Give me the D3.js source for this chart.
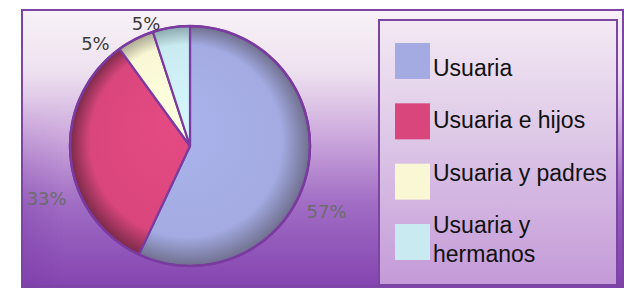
<!DOCTYPE html>
<html><head><meta charset="utf-8">
<script src="https://cdn.jsdelivr.net/npm/d3@7"></script>
<style>html,body{margin:0;padding:0;background:#fff;}svg{display:block;}</style>
</head><body>
<svg id="c" width="624" height="288"></svg>
<script>
const categories = ["Usuaria", "Usuaria e hijos", "Usuaria y padres", "Usuaria y hermanos"];
const values = [57, 33, 5, 5];
const valueLabels = ["57%", "33%", "5%", "5%"];
const legendLines = [["Usuaria"], ["Usuaria e hijos"], ["Usuaria y padres"], ["Usuaria y", "hermanos"]];
const colors = ["#a3abe2", "#d9467c", "#f9f7d4", "#c9eaf0"];
const rimColors = ["#6f6f8e", "#7a2a48", "#a8a690", "#8aa8ae"];

const svg = d3.select("#c");
const defs = svg.append("defs");

// background gradient
const bg = defs.append("linearGradient").attr("id","bg").attr("x1",0).attr("y1",0).attr("x2",0).attr("y2",1);
[[0,"#f8f2f7"],[0.22,"#eee2f0"],[0.45,"#cdaadd"],[0.7,"#a06cc4"],[1,"#8444b0"]].forEach(s=>bg.append("stop").attr("offset",s[0]).attr("stop-color",s[1]));
const bgSide = defs.append("linearGradient").attr("id","bgSide").attr("x1",0).attr("y1",0).attr("x2",1).attr("y2",0);
[[0,"#7a3aa6",0.35],[0.07,"#7a3aa6",0],[0.93,"#7a3aa6",0],[1,"#7a3aa6",0.35]].forEach(s=>bgSide.append("stop").attr("offset",s[0]).attr("stop-color",s[1]).attr("stop-opacity",s[2]));
const sideMaskG = defs.append("linearGradient").attr("id","sideMaskG").attr("x1",0).attr("y1",0).attr("x2",0).attr("y2",1);
[[0,"#000"],[0.35,"#000"],[0.8,"#fff"]].forEach(s=>sideMaskG.append("stop").attr("offset",s[0]).attr("stop-color",s[1]));
defs.append("mask").attr("id","sideMask").append("rect").attr("x",0).attr("y",0).attr("width",624).attr("height",288).attr("fill","url(#sideMaskG)");
const lg = defs.append("linearGradient").attr("id","lg").attr("x1",0).attr("y1",0).attr("x2",0).attr("y2",1);
[[0,"#f3e9f3"],[0.4,"#dfcbe8"],[1,"#c49ad8"]].forEach(s=>lg.append("stop").attr("offset",s[0]).attr("stop-color",s[1]));

svg.append("rect").attr("x",21).attr("y",9).attr("width",603).attr("height",279).attr("fill","url(#bg)");
svg.append("rect").attr("x",21).attr("y",9).attr("width",603).attr("height",279).attr("fill","url(#bgSide)").attr("mask","url(#sideMask)");
svg.append("rect").attr("x",22).attr("y",10).attr("width",601).attr("height",276).attr("fill","none").attr("stroke","#7b45a4").attr("stroke-width",2);

// pie
const cx = 190, cy = 146, R = 120;
const pie = d3.pie().sort(null).value(d=>d)(values);
const arc = d3.arc().innerRadius(0).outerRadius(R);
const g = svg.append("g").attr("transform",`translate(${cx},${cy})`);

colors.forEach((c,i)=>{
  const rg = defs.append("radialGradient").attr("id","sl"+i).attr("gradientUnits","userSpaceOnUse")
    .attr("cx",0).attr("cy",0).attr("r",R).attr("fx",-20).attr("fy",-25);
  rg.append("stop").attr("offset",0).attr("stop-color",d3.color(c).brighter(0.15));
  rg.append("stop").attr("offset",0.8).attr("stop-color",c);
  rg.append("stop").attr("offset",1).attr("stop-color",rimColors[i]);
});

g.selectAll("path.slice").data(pie).join("path").attr("class","slice")
  .attr("d",arc).attr("fill",(d,i)=>`url(#sl${i})`)
  .attr("stroke","#7a3aa0").attr("stroke-width",2.2).attr("stroke-linejoin","round");
g.append("circle").attr("r",R).attr("fill","none").attr("stroke","#7a3aa0").attr("stroke-width",2.5);

// value labels
const labelArc = d3.arc().innerRadius(R+20).outerRadius(R+20);
const labelOffsets = [[0,35],[-4,39],[-31,22],[-22,16]];
g.selectAll("text.val").data(pie).join("text").attr("class","val")
  .attr("x",(d,i)=>labelArc.centroid(d)[0]+labelOffsets[i][0])
  .attr("y",(d,i)=>labelArc.centroid(d)[1]+labelOffsets[i][1])
  .attr("text-anchor","middle").attr("dominant-baseline","central")
  .attr("font-family","DejaVu Sans, Liberation Sans, sans-serif").attr("font-size",18)
  .attr("fill",(d,i)=> i<2 ? "#6c6c6c" : "#3a3a3a")
  .text((d,i)=>valueLabels[i]);

// legend
svg.append("rect").attr("x",379).attr("y",20).attr("width",238).attr("height",265)
  .attr("fill","url(#lg)").attr("stroke","#7b45a4").attr("stroke-width",2);
const ly = d3.scalePoint().domain(categories).range([43,224]);
const ty = d3.scalePoint().domain(categories).range([76,233]);
const lgG = svg.append("g");
categories.forEach((cat,i)=>{
  lgG.append("rect").attr("x",395).attr("y",ly(cat)).attr("width",35).attr("height",36).attr("fill",colors[i]);
  const lines = legendLines[i];
  const t = lgG.append("text").attr("font-family","Liberation Sans, Arial, sans-serif").attr("font-size",23).attr("fill","#111");
  lines.forEach((ln,j)=>t.append("tspan").attr("x",433).attr("y",ty(cat)+j*29).text(ln));
});
</script>
</body></html>
